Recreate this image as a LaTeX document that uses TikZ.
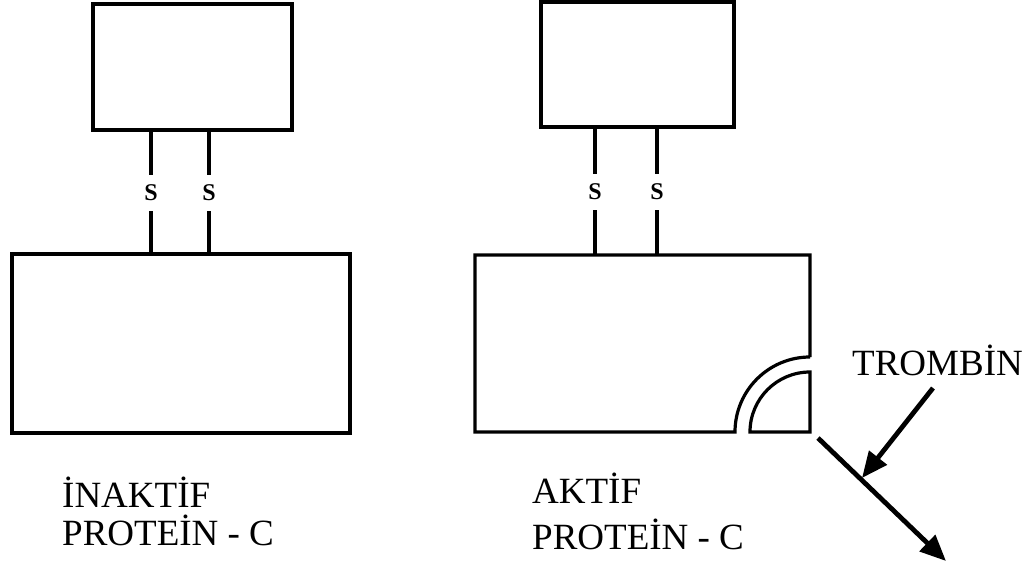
\documentclass[tikz,border=0pt]{standalone}
\usepackage{fontspec}
\setmainfont{Liberation Serif}
\usetikzlibrary{arrows.meta}
\begin{document}
\begin{tikzpicture}[x=1pt,y=-1pt,
  protbox/.style={draw, line width=3.2pt, inner sep=0pt},
  sgap/.style={inner sep=0pt, minimum height=36pt, font=\fontsize{24}{24}\selectfont\bfseries},
  link/.style={line width=3.2pt},
  lbl/.style={anchor=base west, inner sep=0pt, font=\fontsize{37}{37}\selectfont},
  bigarrow/.style={line width=4.8pt, -{Triangle[length=26pt,width=22pt]}}
]
\useasboundingbox (0,0) rectangle (1036,567);

% ---------- left: inactive ----------
\node[protbox, minimum width=199pt, minimum height=126pt] (ltop) at (192.5,67) {};
\node[protbox, minimum width=338pt, minimum height=179pt] (lbot) at (181,343.5) {};
\node[sgap] (ls1) at (151,193) {S};
\node[sgap] (ls2) at (209,193) {S};
\draw[link] (ls1.north |- ltop.south) -- (ls1.north);
\draw[link] (ls1.south) -- (ls1.south |- lbot.north);
\draw[link] (ls2.north |- ltop.south) -- (ls2.north);
\draw[link] (ls2.south) -- (ls2.south |- lbot.north);
\node[lbl] (linact1) at (62,507) {İNAKTİF};
\node[lbl] (linact2) at (62,545) {PROTEİN - C};

% ---------- right: active ----------
\node[protbox, minimum width=193pt, minimum height=125pt] (rtop) at (637.5,64.5) {};
\coordinate (rbotNW) at (475,255);
\coordinate (rbotNE) at (810,255);
\coordinate (rbotSW) at (475,432);
\coordinate (rcorner) at (810,432);
\draw[line width=3.2pt, line join=miter]
  (810,357) -- (rbotNE) -- (rbotNW) -- (rbotSW) -- (735,432)
  arc[start angle=180, end angle=90, radius=75pt];
\draw[line width=3.2pt, line join=miter]
  (750,432) arc[start angle=180, end angle=90, radius=60pt] -- (rcorner) -- cycle;
\node[sgap] (rs1) at (595,192) {S};
\node[sgap] (rs2) at (657,192) {S};
\draw[link] (rs1.north |- rtop.south) -- (rs1.north);
\draw[link] (rs1.south) -- (rs1.south |- rbotNW);
\draw[link] (rs2.north |- rtop.south) -- (rs2.north);
\draw[link] (rs2.south) -- (rs2.south |- rbotNW);
\node[lbl] (lact1) at (532,503) {AKTİF};
\node[lbl] (lact2) at (532,549) {PROTEİN - C};

% ---------- thrombin ----------
\node[lbl] (trombin) at (852,375) {TROMBİN};
\coordinate (cutstart) at (818,438);
\coordinate (cutend) at (946,561);
\coordinate (tstart) at (933,388);
\coordinate (thit) at (862,478);
\draw[bigarrow] (cutstart) -- (cutend);
\draw[bigarrow] (tstart) -- (thit);
\end{tikzpicture}
\end{document}
